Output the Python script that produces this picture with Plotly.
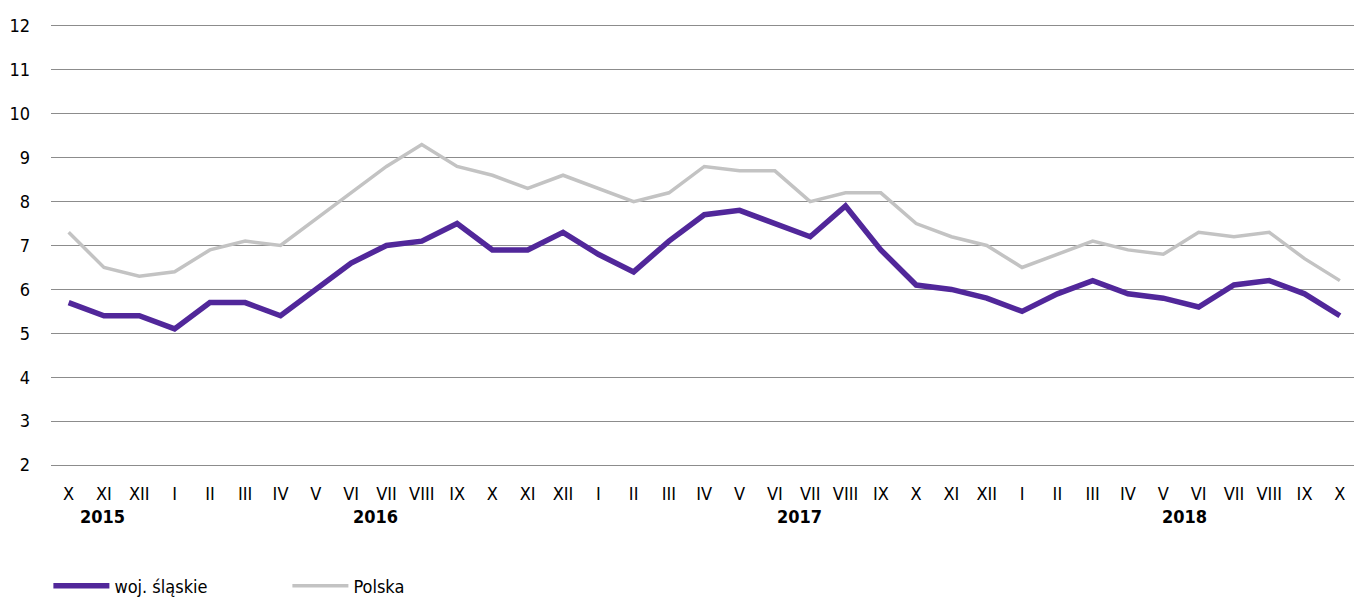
import plotly.graph_objects as go

months = ["X", "XI", "XII",
          "I", "II", "III", "IV", "V", "VI", "VII", "VIII", "IX", "X", "XI", "XII",
          "I", "II", "III", "IV", "V", "VI", "VII", "VIII", "IX", "X", "XI", "XII",
          "I", "II", "III", "IV", "V", "VI", "VII", "VIII", "IX", "X"]
years = ["2015", "2016", "2017", "2018"]
year_pos = [0.95, 8.7, 20.7, 31.6]

slaskie = [5.7, 5.4, 5.4,
           5.1, 5.7, 5.7, 5.4, 6.0, 6.6, 7.0, 7.1, 7.5, 6.9, 6.9, 7.3,
           6.8, 6.4, 7.1, 7.7, 7.8, 7.5, 7.2, 7.9, 6.9, 6.1, 6.0, 5.8,
           5.5, 5.9, 6.2, 5.9, 5.8, 5.6, 6.1, 6.2, 5.9, 5.4]
polska = [7.3, 6.5, 6.3,
          6.4, 6.9, 7.1, 7.0, 7.6, 8.2, 8.8, 9.3, 8.8, 8.6, 8.3, 8.6,
          8.3, 8.0, 8.2, 8.8, 8.7, 8.7, 8.0, 8.2, 8.2, 7.5, 7.2, 7.0,
          6.5, 6.8, 7.1, 6.9, 6.8, 7.3, 7.2, 7.3, 6.7, 6.2]

idx = list(range(len(months)))
FONT = "DejaVu Sans Condensed, Roboto, Arial, sans-serif"

fig = go.Figure()
fig.add_trace(go.Scatter(x=idx, y=slaskie, mode="lines", name="woj. śląskie",
                         line=dict(color="#51279A", width=5.5)))
fig.add_trace(go.Scatter(x=idx, y=polska, mode="lines", name="Polska",
                         line=dict(color="#C3C3C3", width=3.5)))

for yr, xp in zip(years, year_pos):
    fig.add_annotation(x=xp, y=-0.106, xref="x", yref="paper", text="<b>" + yr + "</b>",
                       showarrow=False, font=dict(size=18, color="#000000", family=FONT),
                       xanchor="center", yanchor="middle")

fig.update_layout(
    width=1354, height=597,
    margin=dict(l=51, r=0, t=22, b=128, autoexpand=False),
    plot_bgcolor="white", paper_bgcolor="white",
    font=dict(family=FONT, size=18, color="#000000"),
    xaxis=dict(range=[-0.5, 36.4], tickmode="array", tickvals=idx, ticktext=months,
               showgrid=False, zeroline=False, showline=False, ticks="",
               ticklabelstandoff=12, automargin=False,
               tickfont=dict(size=18)),
    yaxis=dict(range=[1.91, 12.09], tickvals=list(range(2, 13)), showgrid=True,
               gridcolor="#8C8C8C", gridwidth=1,
               zeroline=False, showline=False, ticks="", ticklabelstandoff=20,
               automargin=False, tickfont=dict(size=18)),
    legend=dict(orientation="h", x=-0.002, xanchor="left", y=-0.262, yanchor="middle",
                itemwidth=56, entrywidth=168, font=dict(size=18), bgcolor="rgba(0,0,0,0)"),
    showlegend=True,
)

fig.write_html("out.html", config={"displayModeBar": False},
               post_script="document.body.style.margin='0';document.body.style.overflow='hidden';")
